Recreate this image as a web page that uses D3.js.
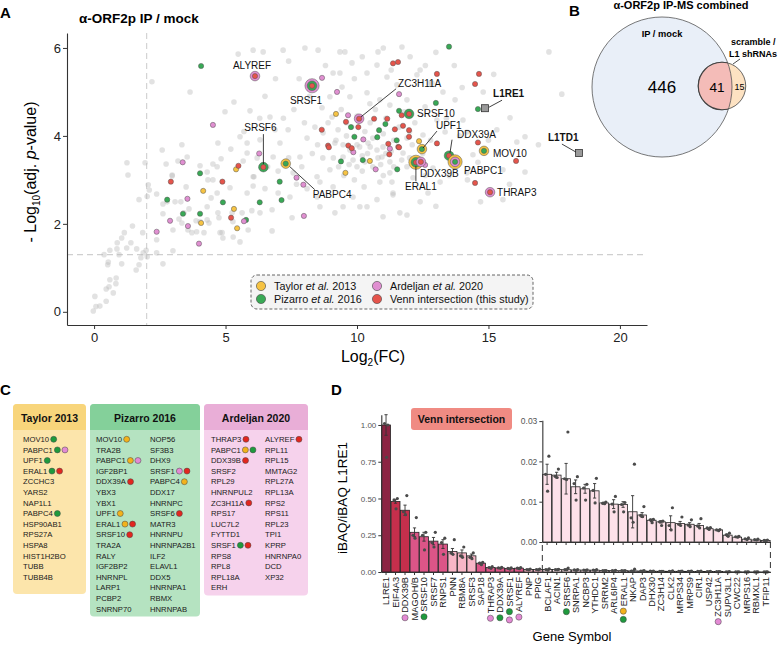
<!DOCTYPE html>
<html>
<head>
<meta charset="utf-8">
<script src="https://cdn.jsdelivr.net/npm/d3@7"></script>
<style>
  body { margin: 0; background: #fff; }
  svg { font-family: "Liberation Sans", Arial, Helvetica, sans-serif; }
</style>
</head>
<body>
<svg id="fig" width="778" height="647"></svg>
<script>
// ---------------- data ----------------
// panel A : volcano (log2FC, -log10 adj p)
const fcCut = 2, pCut = 1.3;
const xTicksA = [0, 5, 10, 15, 20];
const yTicksA = [0, 2, 4, 6];

const greyPts = [
  [-0.03,0.02],[0.07,0.12],[0.22,0.13],[0.03,0.35],[0.46,0.24],[0.46,0.52],[0.57,0.57],[0.73,0.43],[0.83,0.64],[0.84,0.77],
  [0.6,0.73],[0.54,1.13],[0.52,1.07],[0.6,1.4],[0.38,1.3],[0.87,1.43],[0.88,1.57],[1.05,1.68],[1.15,1.8],[0.95,1.3],
  [1.05,1.09],[1.24,1.45],[1.46,1.95],[1.4,1.57],[1.62,1.43],[1.6,0.95],[1.71,1.07],[1.78,1.23],[1.85,1.8],[1.87,1.34],
  [1.98,1.4],[2.02,1.25],[2.06,2.89],[2.02,2.62],[2.1,2.77],[2.38,2.68],[2.38,1.64],[2.62,1.09],[2.38,1.34],[2.62,2.23],
  [3.0,1.39],[3.0,1.86],[2.62,2.45],[2.78,2.5],[2.97,3.11],[3.08,2.5],[3.3,2.5],[3.23,2.11],[3.34,2.02],[3.5,2.84],
  [3.57,1.86],[3.72,1.8],[3.88,2.07],[3.9,1.82],[4.18,1.8],[4.3,2.09],[4.3,2.39],[4.33,3.0],[4.45,2.59],[4.52,3.0],
  [4.68,2.7],[4.71,2.25],[4.75,2.14],[4.9,1.68],[4.87,1.8],[5.17,2.82],[5.25,2.25],[5.28,2.05],[5.55,1.59],[5.63,2.25],
  [6.0,2.3],[6.05,2.86],[6.08,3.07],[5.82,2.7],[4.37,2.02],[4.03,2.05],[3.61,2.34],[3.42,2.25],[1.71,2.55],[1.29,3.11],
  [5.48,5.86],[2.2,5.23],[3.65,5.0],[5.32,4.77],[4.98,4.55],[5.93,4.57],[2.59,3.68],[3.34,3.8],[3.54,3.52],[3.19,3.43],
  [2.74,3.36],[1.25,3.39],[1.94,3.39],[2.97,3.09],[4.03,3.32],[4.3,3.18],[4.52,3.36],[4.68,3.3],[4.83,3.48],[5.55,3.98],
  [5.82,3.84],[5.67,3.43],[5.82,3.61],[4.71,3.84],[6.05,3.07],
  [6.43,5.91],[9.35,5.91],[9.54,5.91],[10.8,5.91],[11.71,6.02],[9.35,5.43],[9.81,5.66],[10.38,5.43],[10.76,5.61],[11.14,5.34],
  [11.52,5.16],[12.28,5.39],[12.78,5.2],[13.27,5.0],[9.43,5.11],[9.73,4.89],[10.38,4.98],[10.49,4.73],[10.87,4.82],[11.25,4.7],
  [11.9,4.82],[12.59,4.66],[13.04,4.36],[8.97,4.89],[8.67,4.64],[9.05,4.43],[8.71,4.07],[9.28,4.14],[9.16,3.84],[9.47,3.8],
  [9.73,3.68],[10.0,3.8],[10.42,3.84],[10.76,3.68],[10.99,3.75],[9.47,3.52],[9.85,3.45],[10.3,3.41],[10.95,3.52],[11.25,3.41],
  [11.75,3.61],[11.9,3.3],[7.83,3.52],[8.1,3.95],[7.38,4.14],[7.07,3.84],[7.57,3.16],[8.48,3.07],[8.97,3.23],[6.69,4.43],
  [6.88,4.14],[6.31,3.91],[6.81,3.52],[6.05,5.95],[7.19,5.95],[8.02,6.0],[8.52,5.95],[9.09,5.43],
  [17.3,5.91],[17.79,4.95],[16.39,3.98],[15.82,4.41],[16.39,3.18],[15.55,3.23],[16.08,3.86],[14.18,4.09],[15.32,4.14],[14.18,3.16],
  [13.16,2.95],[15.55,2.55],[12.85,5.2],[13.73,4.82],[14.03,4.36],[12.51,4.02],[11.33,2.95],[11.37,2.7],[12.13,3.05],[14.41,3.57],
  [12.89,3.27],[13.35,4.09],[12.4,5.5],[12.02,5.8],
  [10.27,2.84],[9.85,2.61],[10.11,2.39],[11.37,2.66],[11.25,3.16],[10.87,2.95],[9.09,2.84],[8.59,2.95],[8.48,2.61],[9.47,2.39],
  [7.45,2.61],[6.77,2.32],[6.31,2.25],[5.86,1.86],[6.77,1.84],[5.29,1.7],[4.79,1.8],[7.53,2.14],[8.59,2.39],[9.16,2.25],
  [10.38,2.39],[11.63,2.25],[10.99,2.16],[10.76,2.55],
  [9.2,3.9],[9.6,4.0],[10.1,3.75],[10.4,3.6],[10.6,3.95],[11.0,4.05],[11.3,3.65],[11.6,4.2],[11.9,3.95],[12.2,4.3],
  [12.5,3.6],[12.8,3.9],[9.8,4.2],[10.3,4.1],[11.1,4.4],[10.7,4.6],[9.4,4.6],[11.8,4.55],[12.1,3.8],[10.9,3.35],
  [10.0,3.3],[9.3,3.3],[8.7,3.5],[8.3,3.6],[8.0,4.3],[7.6,4.6],[8.2,4.9],[7.2,4.4],[6.5,4.9],[7.8,5.3],
  [8.8,5.6],[9.9,5.3],[11.3,5.5],[12.6,5.6],[13.7,5.6],[14.0,5.1],[14.8,5.0],[15.2,5.4],[13.4,4.4],[13.9,4.0],
  [14.6,3.4],[15.0,3.9],[14.2,3.0],[13.5,3.1],[12.7,2.7],[13.0,2.4],[14.7,2.5],[12.4,2.5],[11.9,2.2],[16.9,3.8],
  [15.8,2.9],[6.3,4.4],[5.7,4.1],[5.2,3.7],[6.9,5.3],[7.4,5.7],[11.0,6.0],[13.0,5.9],[10.2,5.8],
  [9.5,3.1],[9.9,3.0],[10.2,3.2],[10.6,3.3],[11.0,3.1],[11.4,3.3],[11.7,3.45],[10.5,3.75],[10.8,3.5],[11.1,3.6],
  [10.2,3.55],[9.7,3.35],[9.1,3.5],[11.4,3.9],[12.0,3.5],[12.3,3.35],[12.6,3.1],[12.0,4.1],[10.0,4.45],[10.5,4.3],
  [9.6,4.3],[8.9,4.3],[8.4,4.2],[8.5,3.8],[7.9,3.3],[7.4,3.5],[7.0,3.2],[6.6,3.3],[6.2,3.5],[8.1,2.8],
  [7.7,2.9],[7.0,2.7],[6.5,2.8]
];

const taylorOnly = [[9.2,4.5],[10.49,3.43],[9.56,3.16],[5.4,3.24],[4.15,2.75],[5.32,2.34],[4.07,2.02],[5.44,1.9],[12.36,3.88]];
const pizarroOnly = [[4.07,5.59],[9.77,4.2],[11.08,4.27],[10.84,4.13],[9.9,3.98],[10.77,3.97],[11.51,3.9],[9.39,3.42],
  [10.22,3.45],[11.53,3.24],[4.03,3.15],[7.06,2.96],[2.78,2.55],[4.9,2.49],[6.3,2.49],[7.13,2.54],[3.38,2.23],[4.03,2.23],
  [5.78,2.09],[13.5,6.03],[13.0,4.75],[14.6,4.61],[11.6,4.57]];
const ardeljanOnly = [[8.67,5.32],[9.24,5.0],[4.52,4.25],[9.66,4.47],[10.24,3.92],[9.86,3.63],[11.25,3.71],[6.28,3.6],
  [10.71,3.24],[3.37,3.4],[7.7,3.05],[7.96,2.89],[3.55,2.57],[7.98,2.18],[5.7,2.06],[2.89,2.07],[3.57,1.95],[2.38,1.82],
  [3.99,1.55],[11.6,4.95],[12.59,3.34]];
const vennOnly = [[9.58,4.32],[10.05,4.2],[10.65,4.39],[11.15,4.39],[8.66,4.14],[8.9,3.78],[8.93,3.74],[9.67,3.78],
  [9.8,3.72],[11.19,3.82],[11.23,3.58],[11.57,3.75],[5.49,3.32],[2.92,2.96],[4.88,2.96],[5.21,2.14],[11.37,5.65],
  [11.56,5.68],[13.04,5.41],[14.64,5.41],[14.49,5.18],[11.7,4.47],[11.75,4.23],[11.44,4.15],[11.98,4.13],[11.98,3.98],
  [11.6,3.74],[13.04,3.83],[14.6,3.85],[16.05,3.43],[14.49,2.93]];

// labelled proteins: membership rings listed outer -> inner
const labGenes = ["ALYREF","SRSF1","SRSF6","PABPC4","ZC3H11A","SRSF10","UPF1","DDX39A","PABPC1","ERAL1","DDX39B","MOV10","THRAP3"];
const labFC    = [6.12, 8.29, 6.44, 7.29, 10.08, 11.98, 12.47, 13.5, 13.73, 12.24, 12.43, 14.83, 15.06];
const labP     = [5.36, 5.14, 3.29, 3.37, 4.39, 4.5, 3.7, 3.55, 3.41, 3.4, 3.41, 3.66, 2.72];
const labSets  = ["AV","APV","PV","TP","AV","PV","TP","PV","TAP","TPV","AV","TP","AV"];

const baitGenes = ["L1RE1", "L1TD1"];
const baitFC = [14.87, 18.44];
const baitP = [4.63, 3.61];

const legendKeys = ["T", "P", "A", "V"];
const legendText = [["Taylor ", "et al.", " 2013"], ["Pizarro ", "et al.", " 2016"],
                    ["Ardeljan ", "et al.", " 2020"], ["Venn intersection  (this study)", "", ""]];

// panel B : venn counts
const vennIpOnly = 446, vennBoth = 41, vennShOnly = 15;

// panel C : published interactor lists (gene:other-lists)
const taylorList = ["MOV10:P","PABPC1:PA","UPF1:P","ERAL1:PV","ZCCHC3","YARS2","NAP1L1","PABPC4:P","HSP90AB1","RPS27A","HSPA8","HIST1H2BO","TUBB","TUBB4B"];
const pizarroList1 = ["MOV10:T","TRA2B","PABPC1:TA","IGF2BP1","DDX39A:V","YBX3","YBX1","UPF1:T","ERAL1:TV","SRSF10:V","TRA2A","RALY","IGF2BP2","HNRNPL","LARP1","PCBP2","SNRNP70"];
const pizarroList2 = ["NOP56","SF3B3","DHX9","SRSF1:AV","PABPC4:T","DDX17","HNRNPC","SRSF6:V","MATR3","HNRNPU","HNRNPA2B1","ILF2","ELAVL1","DDX5","HNRNPA1","RBMX","HNRNPAB"];
const ardeljanList1 = ["THRAP3:V","PABPC1:TP","DDX39B:V","SRSF2","RPL29","HNRNPUL2","ZC3H11A:V","RPS17","LUC7L2","FYTTD1","SRSF1:PV","RPS8","RPL8","RPL18A","ERH"];
const ardeljanList2 = ["ALYREF:V","RPL11","RPL15","MMTAG2","RPL27A","RPL13A","RPS2","RPS11","RPL23","TPI1","KPRP","HNRNPA0","DCD","XP32"];

// panel D : iBAQ relative to L1RE1
const dGenes = ["L1RE1","EIF4A3","DDX39B","MAGOH/B","SRSF10","SRSF7","RNPS1","PNN","RBM8A","SRSF3","SAP18","THRAP3","DDX39A",
  "SRSF1","ALYREF","PNP","PPIG","BCLAF1","ACIN1","SRSF6","SNRPA1","NCBP3","YTHDC1","SRRM2","ARL6IP4","ERAL1","NKAP","DAP3",
  "DHX30","ZC3H14","CLK2","MRPS34","MRPS9","CIR1","USP42","ZC3H11A","SUPV3L1","CWC22","MRPS16","RBMXL1","TFIP11"];
const dMean = [1.00,0.48,0.42,0.27,0.24,0.21,0.19,0.14,0.13,0.11,0.06,0.030,0.028,0.024,0.026,0.017,0.017,
  0.0168,0.0166,0.0157,0.0137,0.0132,0.0127,0.0097,0.0094,0.0093,0.0075,0.0067,0.0054,0.0050,0.0048,0.0046,0.0044,
  0.0041,0.0033,0.0030,0.0017,0.0012,0.0007,0.0005,0.0004];
const dSE = [0.07,0.012,0.035,0.03,0.03,0.025,0.03,0.02,0.02,0.012,0.006,0.004,0.003,0.003,0.003,0.002,0.002,
  0.0025,0.0007,0.0038,0.0017,0.0011,0.0018,0.0002,0.0011,0.0007,0.0040,0.0006,0.0003,0.0003,0.0017,0.0005,0.0004,
  0.0005,0.0002,0.0001,0.0003,0.0001,0.0001,0.0001,0.0001];
const dRep1 = [1.00,0.50,0.52,0.37,0.27,0.27,0.23,0.22,0.17,0.13,0.065,0.036,0.032,0.028,0.030,0.020,0.019,
  0.0213,0.0181,0.0273,0.0162,0.0143,0.0158,0.0099,0.0113,0.0098,0.0193,0.0088,0.0056,0.0052,0.0085,0.0062,0.0055,
  0.0058,0.0036,0.0031,0.0022,0.0014,0.0010,0.0007,0.0005];
const dRep2 = [1.01,0.49,0.41,0.25,0.25,0.20,0.20,0.13,0.11,0.10,0.060,0.030,0.028,0.024,0.026,0.017,0.017,
  0.0168,0.0163,0.0157,0.0145,0.0134,0.0128,0.0096,0.0094,0.0093,0.0060,0.0066,0.0055,0.0050,0.0041,0.0044,0.0042,
  0.0040,0.0035,0.0030,0.0018,0.0013,0.0008,0.0006,0.0004];
const dRep3 = [0.78,0.43,0.39,0.23,0.15,0.17,0.12,0.12,0.10,0.09,0.050,0.025,0.025,0.020,0.022,0.015,0.015,
  0.0126,0.0160,0.0155,0.0104,0.0104,0.0097,0.0095,0.0075,0.0075,0.0049,0.0063,0.0048,0.0041,0.0030,0.0041,0.0038,
  0.0035,0.0031,0.0028,0.0014,0.0012,0.0006,0.0005,0.0003];
const dShade = [0,1,1,2,2,2,2,3,3,3,2,2,2,2,2,3,3,4,4,4,4,4,4,4,4,4,4,4,4,4,4,4,4,4,4,4,4,4,4,4,4];
const dInsetFrom = "BCLAF1";
const dMarks = {"DDX39B":"A","SRSF10":"P","THRAP3":"A","DDX39A":"P","SRSF1":"PA","ALYREF":"A","SRSF6":"P","ERAL1":"TP","ZC3H11A":"A"};
const yTicksD = [0, 0.25, 0.5, 0.75, 1];
const yTicksIn = [0, 0.01, 0.02, 0.03];

// ---------------- styles ----------------
const setCol = {T: "#f6c343", P: "#38a955", A: "#e08fd1", V: "#e5544b"};
const dotCol = {T: "#f2b21c", P: "#1e9a3d", A: "#e38ad4", V: "#e2261f"};
const shadeCol = ["#8c2443", "#c52f4c", "#dc5587", "#f7b6c6", "#fde1e9"];

const svg = d3.select("#fig");

function styleAxis(g, fs, colr) {
  g.select(".domain").attr("stroke", "#333").attr("stroke-width", 1.1);
  g.selectAll(".tick line").attr("stroke", "#333");
  g.selectAll(".tick text").attr("font-family", null).attr("font-size", fs).attr("fill", colr || "#222");
}

function panelLetter(t, x, y) {
  svg.append("text").attr("x", x).attr("y", y).attr("font-size", 15).attr("font-weight", "bold").text(t);
}

// ================= panel A =================
const xA = d3.scaleLinear().domain([-1.03, 21.03]).range([67, 647]);
const yA = d3.scaleLinear().domain([-0.3, 6.34]).range([325, 33]);
const gA = svg.append("g");

panelLetter("A", 0, 18);
gA.append("text").attr("x", 79).attr("y", 23).attr("font-size", 13.5).attr("font-weight", "bold")
  .text("α-ORF2p IP / mock");

gA.append("line").attr("x1", xA(fcCut)).attr("x2", xA(fcCut)).attr("y1", yA.range()[1]).attr("y2", yA.range()[0])
  .attr("stroke", "#cfcfcf").attr("stroke-width", 1.1).attr("stroke-dasharray", "6,4");
gA.append("line").attr("x1", xA.range()[0]).attr("x2", xA.range()[1]).attr("y1", yA(pCut)).attr("y2", yA(pCut))
  .attr("stroke", "#cfcfcf").attr("stroke-width", 1.1).attr("stroke-dasharray", "6,4");

gA.append("g").selectAll("circle").data(greyPts).join("circle")
  .attr("cx", d => xA(d[0])).attr("cy", d => yA(d[1])).attr("r", 2.8)
  .attr("fill", "#b9b9b9").attr("fill-opacity", 0.42);

[["T", taylorOnly], ["P", pizarroOnly], ["A", ardeljanOnly], ["V", vennOnly]].forEach(([k, pts]) => {
  gA.append("g").selectAll("circle").data(pts).join("circle")
    .attr("cx", d => xA(d[0])).attr("cy", d => yA(d[1])).attr("r", 2.6)
    .attr("fill", setCol[k]).attr("stroke", "#555").attr("stroke-width", 0.5);
});

const ringR = [2.6, 4.8, 7.1];
labGenes.forEach((g, i) => {
  const sets = labSets[i].split("");
  const n = sets.length;
  sets.forEach((s, j) => {
    gA.append("circle").attr("cx", xA(labFC[i])).attr("cy", yA(labP[i])).attr("r", ringR[n - 1 - j])
      .attr("fill", setCol[s]).attr("stroke", "#555").attr("stroke-width", 0.5);
  });
});

baitGenes.forEach((g, i) => {
  gA.append("rect").attr("x", xA(baitFC[i]) - 3.5).attr("y", yA(baitP[i]) - 3.5).attr("width", 7).attr("height", 7)
    .attr("fill", "#9a9a9a").attr("stroke", "#333").attr("stroke-width", 0.8);
});

// label placement (pixel offsets from each point)
const labStyle = {
  ALYREF: {dx: -3, dy: -7, a: "middle"},
  SRSF1: {dx: -6, dy: 18, a: "middle"},
  SRSF6: {dx: -3, dy: -36, a: "middle", line: [0, -33, 0, -3]},
  PABPC4: {dx: 27, dy: 34, a: "start", line: [4, 3, 29, 26]},
  ZC3H11A: {dx: 39, dy: -32, a: "start", line: [2, -2, 37, -30]},
  SRSF10: {dx: 8, dy: 3, a: "start"},
  UPF1: {dx: 14, dy: -20, a: "start", line: [1, -1, 15, -18]},
  DDX39A: {dx: 8, dy: -18, a: "start", line: [1, -3, 3, -16]},
  PABPC1: {dx: 9, dy: 12, a: "start"},
  DDX39B: {dx: -1, dy: 15, a: "start"},
  ERAL1: {dx: 5, dy: 28, a: "middle", line: [0, 4, 0, 19]},
  MOV10: {dx: 9, dy: 6, a: "start"},
  THRAP3: {dx: 7, dy: 4, a: "start"},
  L1RE1: {dx: 8, dy: -11, a: "start", line: [4, -1, 17, -8], bold: true},
  L1TD1: {dx: -31, dy: -12, a: "start", line: [-17, -9, -3, -1], bold: true}
};
function drawLabel(name, px, py) {
  const s = labStyle[name];
  if (s.line) {
    gA.append("line").attr("x1", px + s.line[0]).attr("y1", py + s.line[1])
      .attr("x2", px + s.line[2]).attr("y2", py + s.line[3]).attr("stroke", "#111").attr("stroke-width", 0.8);
  }
  gA.append("text").attr("x", px + s.dx).attr("y", py + s.dy).attr("text-anchor", s.a)
    .attr("font-size", 10).attr("font-weight", s.bold ? "bold" : null).attr("fill", "#111").text(name);
}
labGenes.forEach((g, i) => drawLabel(g, xA(labFC[i]), yA(labP[i])));
baitGenes.forEach((g, i) => drawLabel(g, xA(baitFC[i]), yA(baitP[i])));

const axAx = gA.append("g").attr("transform", `translate(0,${yA.range()[0]})`)
  .call(d3.axisBottom(xA).tickValues(xTicksA).tickSize(4).tickSizeOuter(0).tickPadding(4));
styleAxis(axAx, 13);
const axAy = gA.append("g").attr("transform", `translate(${xA.range()[0]},0)`)
  .call(d3.axisLeft(yA).tickValues(yTicksA).tickFormat(d3.format("d")).tickSize(4).tickSizeOuter(0).tickPadding(2));
styleAxis(axAy, 13);

const xl = gA.append("text").attr("x", 373).attr("y", 362).attr("text-anchor", "middle").attr("font-size", 16);
xl.append("tspan").text("Log");
xl.append("tspan").attr("font-size", 10).attr("dy", 4).text("2");
xl.append("tspan").attr("dy", -4).text("(FC)");

const yl = gA.append("text").attr("transform", "translate(36,172) rotate(-90)").attr("text-anchor", "middle").attr("font-size", 16);
yl.append("tspan").text("- Log");
yl.append("tspan").attr("font-size", 10).attr("dy", 4).text("10");
yl.append("tspan").attr("dy", -4).text("(adj. ");
yl.append("tspan").attr("font-style", "italic").text("p");
yl.append("tspan").text("-value)");

// legend
gA.append("rect").attr("x", 251).attr("y", 275).attr("width", 282).attr("height", 34).attr("rx", 6)
  .attr("fill", "#f4f4f4").attr("stroke", "#555").attr("stroke-width", 0.9).attr("stroke-dasharray", "3,2");
const legPos = [[261, 286], [261, 299], [377, 286], [377, 299]];
legendKeys.forEach((k, i) => {
  const [cx, cy] = legPos[i];
  gA.append("circle").attr("cx", cx).attr("cy", cy).attr("r", 4.6)
    .attr("fill", setCol[k]).attr("stroke", "#444").attr("stroke-width", 0.6);
  const t = gA.append("text").attr("x", cx + 13).attr("y", cy + 4).attr("font-size", 10.8).attr("fill", "#111");
  t.append("tspan").text(legendText[i][0]);
  t.append("tspan").attr("font-style", "italic").text(legendText[i][1]);
  t.append("tspan").text(legendText[i][2]);
});

// ================= panel B =================
const gB = svg.append("g");
panelLetter("B", 569, 16);
gB.append("text").attr("x", 681).attr("y", 9).attr("text-anchor", "middle").attr("font-size", 11)
  .attr("font-weight", "bold").text("α-ORF2p IP-MS combined");

const rV = d3.scaleSqrt().domain([0, vennIpOnly + vennBoth]).range([0, 70]);
const bigR = rV(vennIpOnly + vennBoth), smallR = rV(vennBoth + vennShOnly);
const bigC = [662, 87], smallC = [722, 86];

gB.append("defs").append("clipPath").attr("id", "bigClip")
  .append("circle").attr("cx", bigC[0]).attr("cy", bigC[1]).attr("r", bigR);
gB.append("circle").attr("cx", bigC[0]).attr("cy", bigC[1]).attr("r", bigR).attr("fill", "#e9eff8");
gB.append("circle").attr("cx", smallC[0]).attr("cy", smallC[1]).attr("r", smallR)
  .attr("fill", "#fde2c2").attr("stroke", "#444").attr("stroke-width", 0.8);
gB.append("circle").attr("cx", smallC[0]).attr("cy", smallC[1]).attr("r", smallR).attr("clip-path", "url(#bigClip)")
  .attr("fill", "#f4bcb8").attr("stroke", "#444").attr("stroke-width", 1.2);
gB.append("circle").attr("cx", bigC[0]).attr("cy", bigC[1]).attr("r", bigR).attr("fill", "none")
  .attr("stroke", "#555").attr("stroke-width", 0.8);

gB.append("text").attr("x", bigC[0]).attr("y", 93).attr("text-anchor", "middle").attr("font-size", 17).text(vennIpOnly);
gB.append("text").attr("x", 717).attr("y", 91.5).attr("text-anchor", "middle").attr("font-size", 13.5).text(vennBoth);
gB.append("text").attr("x", 739.5).attr("y", 90).attr("text-anchor", "middle").attr("font-size", 9).text(vennShOnly);
gB.append("text").attr("x", bigC[0]).attr("y", 37).attr("text-anchor", "middle").attr("font-size", 9.3)
  .attr("font-weight", "bold").text("IP / mock");
gB.append("text").attr("x", 731).attr("y", 45).attr("font-size", 9).attr("font-weight", "bold").text("scramble /");
gB.append("text").attr("x", 729).attr("y", 57).attr("font-size", 9).attr("font-weight", "bold").text("L1 shRNAs");
gB.append("line").attr("x1", 733).attr("y1", 64).attr("x2", 740).attr("y2", 59).attr("stroke", "#222").attr("stroke-width", 0.8);

// ================= panel C =================
const gC = svg.append("g");
panelLetter("C", 0, 395);
const boxes = [
  {title: "Taylor 2013", lists: [taylorList], x0: 13, x1: 86, colX: [23], head: "#f8d57b", body: "#fce5ab"},
  {title: "Pizarro 2016", lists: [pizarroList1, pizarroList2], x0: 90, x1: 200, colX: [96, 150], head: "#84d09a", body: "#b5e3c1"},
  {title: "Ardeljan 2020", lists: [ardeljanList1, ardeljanList2], x0: 204, x1: 308, colX: [211, 265], head: "#e9aed7", body: "#f6d2ec"}
];
const cTop = 404, cHead = 26, rowY0 = 442, rowStep = 10.6;
boxes.forEach(b => {
  const nRows = d3.max(b.lists, l => l.length);
  const bottom = Math.max(cTop + 190, rowY0 + (nRows - 1) * rowStep + 5);
  gC.append("rect").attr("x", b.x0).attr("y", cTop).attr("width", b.x1 - b.x0).attr("height", bottom - cTop)
    .attr("rx", 4).attr("fill", b.body);
  gC.append("rect").attr("x", b.x0).attr("y", cTop).attr("width", b.x1 - b.x0).attr("height", cHead)
    .attr("rx", 4).attr("fill", b.head);
  gC.append("rect").attr("x", b.x0).attr("y", cTop + cHead - 6).attr("width", b.x1 - b.x0).attr("height", 6)
    .attr("fill", b.head);
  gC.append("text").attr("x", (b.x0 + b.x1) / 2).attr("y", cTop + 18).attr("text-anchor", "middle")
    .attr("font-size", 10.5).attr("font-weight", "bold").attr("fill", "#111").text(b.title);
  b.lists.forEach((list, ci) => {
    list.forEach((item, ri) => {
      const [name, marks] = item.split(":");
      const y = rowY0 + ri * rowStep;
      const t = gC.append("text").attr("x", b.colX[ci]).attr("y", y).attr("font-size", 7.7)
        .attr("fill", "#1a1a1a").text(name);
      if (marks) {
        const w = t.node().getComputedTextLength();
        marks.split("").forEach((m, k) => {
          gC.append("circle").attr("cx", b.colX[ci] + w + 4.6 + k * 7.6).attr("cy", y - 2.7).attr("r", 3)
            .attr("fill", dotCol[m]).attr("stroke", "#444").attr("stroke-width", 0.5);
        });
      }
    });
  });
});

// ================= panel D =================
const gD = svg.append("g");
panelLetter("D", 331, 395);
const xD = d3.scaleBand().domain(dGenes).range([381.3, 770.4]).paddingInner(0.06).paddingOuter(0.03);
const yD = d3.scaleLinear().domain([0, 1.07]).range([572, 414.7]);
const insetGenes = dGenes.slice(dGenes.indexOf(dInsetFrom));
const xIn = d3.scaleBand().domain(insetGenes)
  .range([xD(dInsetFrom) - xD.step() * xD.paddingInner() / 2 - 0.3, xD.range()[1]])
  .paddingInner(0.06).paddingOuter(0.03);
const yIn = d3.scaleLinear().domain([0, 0.0302]).range([542, 420.3]);
const repDx = [1.8, -1.5, 0.5];

const rows = dGenes.map((g, i) => ({g, m: dMean[i], se: dSE[i], reps: [dRep1[i], dRep2[i], dRep3[i]], shade: dShade[i]}));

function drawBars(g, data, xs, ys, fillFn) {
  const bw = xs.bandwidth();
  g.selectAll("rect.bar").data(data).join("rect").attr("class", "bar")
    .attr("x", d => xs(d.g)).attr("y", d => ys(d.m)).attr("width", bw).attr("height", d => ys(0) - ys(d.m))
    .attr("fill", fillFn).attr("stroke", "#222").attr("stroke-width", 0.8);
  data.forEach(d => {
    const cx = xs(d.g) + bw / 2;
    const top = ys(d.m + d.se), bot = ys(Math.max(0, d.m - d.se));
    g.append("line").attr("x1", cx).attr("x2", cx).attr("y1", top).attr("y2", bot).attr("stroke", "#333").attr("stroke-width", 0.9);
    [top, bot].forEach(yy => g.append("line").attr("x1", cx - 1.6).attr("x2", cx + 1.6).attr("y1", yy).attr("y2", yy)
      .attr("stroke", "#333").attr("stroke-width", 0.9));
    d.reps.forEach((r, k) => g.append("circle").attr("cx", cx + repDx[k]).attr("cy", ys(r)).attr("r", 1.6)
      .attr("fill", "#4a4a4a"));
  });
}

drawBars(gD.append("g"), rows, xD, yD, d => shadeCol[d.shade]);

const axDy = gD.append("g").attr("transform", `translate(${xD.range()[0]},0)`)
  .call(d3.axisLeft(yD).tickValues(yTicksD).tickFormat(d3.format(".2f")).tickSize(3).tickSizeOuter(0).tickPadding(2));
styleAxis(axDy, 8, "#555");
const axDx = gD.append("g").attr("transform", `translate(0,${yD(0)})`)
  .call(d3.axisBottom(xD).tickSize(3).tickSizeOuter(0).tickFormat(""));
styleAxis(axDx, 8);

// gene labels + membership dots
dGenes.forEach(g => {
  const cx = xD(g) + xD.bandwidth() / 2;
  const y0 = 577;
  const t = gD.append("text").attr("x", cx).attr("y", y0).attr("dy", "0.35em").attr("text-anchor", "end")
    .attr("transform", `rotate(-90,${cx},${y0})`).attr("font-size", 9.2).attr("fill", "#222").text(g);
  if (dMarks[g]) {
    const len = t.node().getComputedTextLength();
    dMarks[g].split("").forEach((m, k) => {
      gD.append("circle").attr("cx", cx).attr("cy", y0 + len + 5 + k * 8.3).attr("r", 3.1)
        .attr("fill", dotCol[m]).attr("stroke", "#444").attr("stroke-width", 0.5);
    });
  }
});

gD.append("text").attr("x", 572).attr("y", 641).attr("text-anchor", "middle").attr("font-size", 13).text("Gene Symbol");
gD.append("text").attr("transform", "translate(347,498) rotate(-90)").attr("text-anchor", "middle")
  .attr("font-size", 13.5).text("iBAQ/iBAQ L1RE1");

// "Venn intersection" tag
gD.append("rect").attr("x", 411).attr("y", 408).attr("width", 101).attr("height", 22).attr("rx", 3).attr("fill", "#f08b83");
gD.append("text").attr("x", 461.5).attr("y", 423).attr("text-anchor", "middle").attr("font-size", 10.5)
  .attr("font-weight", "bold").attr("fill", "#111").text("Venn intersection");

// inset
const gIn = gD.append("g");
drawBars(gIn, rows.filter(d => insetGenes.includes(d.g)), xIn, yIn, () => shadeCol[4]);
const axIy = gIn.append("g").attr("transform", `translate(${xIn.range()[0]},0)`)
  .call(d3.axisLeft(yIn).tickValues(yTicksIn).tickFormat(d3.format(".2f")).tickSize(3).tickSizeOuter(0).tickPadding(2));
styleAxis(axIy, 8.5, "#555");
const axIx = gIn.append("g").attr("transform", `translate(0,${yIn(0)})`)
  .call(d3.axisBottom(xIn).tickSize(3).tickSizeOuter(0).tickFormat(""));
styleAxis(axIx, 8);
[xIn.range()[0], xIn.range()[1]].forEach((xx, i) => {
  gIn.append("line").attr("x1", xx).attr("x2", xx).attr("y1", yIn(0) + (i === 0 ? 3 : 0)).attr("y2", yD(0))
    .attr("stroke", "#333").attr("stroke-width", 1).attr("stroke-dasharray", "6,4");
});
</script>
</body>
</html>
